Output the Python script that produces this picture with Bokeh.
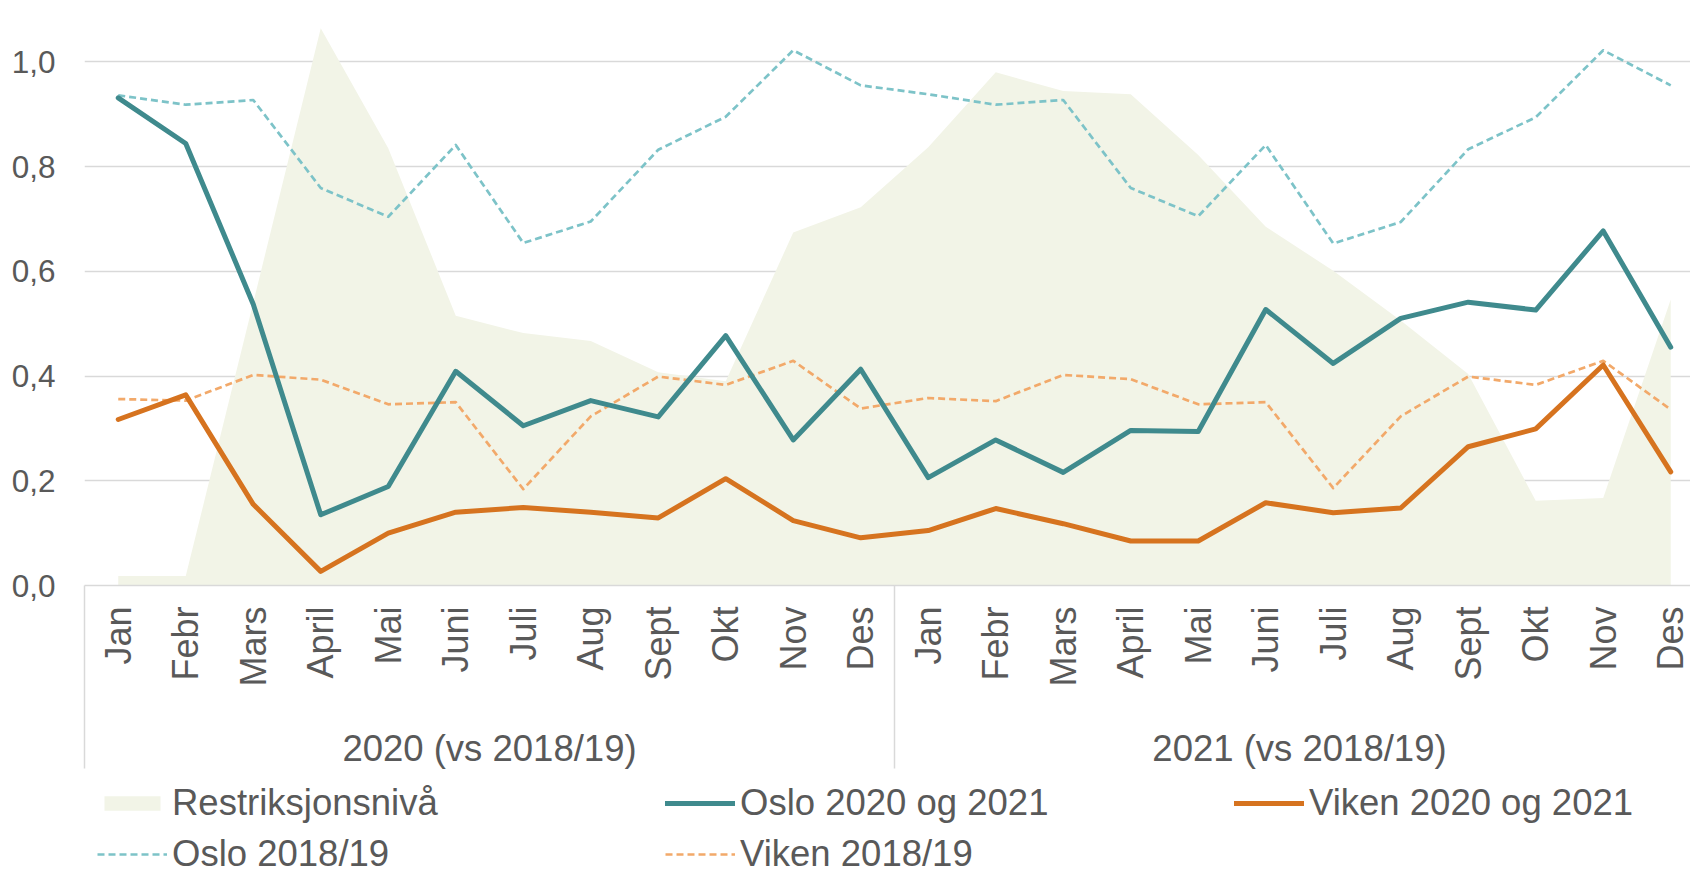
import math
from bokeh.plotting import figure
from bokeh.layouts import column
from bokeh.models import Range1d, FixedTicker, LinearAxis, Legend, LegendItem, Grid
from bokeh.embed import file_html
from bokeh.resources import INLINE

# ---------------- data ----------------
month_names = ["Jan", "Febr", "Mars", "April", "Mai", "Juni", "Juli", "Aug", "Sept", "Okt", "Nov", "Des"]
groups = ["2020 (vs 2018/19)", "2021 (vs 2018/19)"]
categories = month_names + month_names

restriksjon = [0.018, 0.018, 0.54, 1.064, 0.835, 0.515, 0.482, 0.467, 0.407, 0.39, 0.674, 0.722,
               0.837, 0.980, 0.944, 0.938, 0.822, 0.685, 0.601, 0.506, 0.404, 0.162, 0.167, 0.546]
oslo = [0.931, 0.844, 0.537, 0.135, 0.189, 0.409, 0.305, 0.353, 0.322, 0.477, 0.278, 0.413,
        0.206, 0.278, 0.216, 0.296, 0.294, 0.527, 0.424, 0.510, 0.541, 0.526, 0.677, 0.455]
viken = [0.317, 0.364, 0.155, 0.027, 0.100, 0.140, 0.149, 0.140, 0.129, 0.204, 0.124, 0.091,
         0.105, 0.147, 0.118, 0.085, 0.085, 0.158, 0.139, 0.148, 0.265, 0.299, 0.421, 0.217]
oslo_ref = [0.936, 0.918, 0.927, 0.759, 0.704, 0.841, 0.654, 0.695, 0.832, 0.895, 1.022, 0.955,
            0.938, 0.918, 0.927, 0.759, 0.705, 0.841, 0.653, 0.694, 0.833, 0.894, 1.022, 0.955]
viken_ref = [0.356, 0.353, 0.402, 0.393, 0.346, 0.350, 0.184, 0.323, 0.399, 0.383, 0.429, 0.338,
             0.358, 0.352, 0.402, 0.394, 0.346, 0.350, 0.186, 0.323, 0.399, 0.383, 0.429, 0.336]

y_ticks = [0.0, 0.2, 0.4, 0.6, 0.8, 1.0]
y_tick_labels = ["0,0", "0,2", "0,4", "0,6", "0,8", "1,0"]

series_names = ["Restriksjonsnivå", "Oslo 2020 og 2021", "Viken 2020 og 2021", "Oslo 2018/19", "Viken 2018/19"]

# ---------------- style ----------------
FONT = "Liberation Sans"
TXT = "#595959"
GRID = "#D9D9D9"
C_AREA = "#F2F4E7"
C_OSLO = "#3F8A8D"
C_VIKEN = "#D6731F"
C_OSLO_REF = "#7DC3C8"
C_VIKEN_REF = "#F2A96A"

styles = {
    "area": dict(fill_color=C_AREA),
    "oslo": dict(line_color=C_OSLO, line_width=5, line_join="round", line_cap="round"),
    "viken": dict(line_color=C_VIKEN, line_width=5, line_join="round", line_cap="round"),
    "oslo_ref": dict(line_color=C_OSLO_REF, line_width=2.7, line_dash="7 4", line_join="round"),
    "viken_ref": dict(line_color=C_VIKEN_REF, line_width=2.7, line_dash="7 4", line_join="round"),
}

x = list(range(len(categories)))
n_per_group = len(month_names)

W = 1690
H_MAIN = 776
H_LEG = 100
LEFT = 84

p = figure(width=W, height=H_MAIN, output_backend="svg", toolbar_location=None,
           x_range=Range1d(-0.5, 23.293), y_range=Range1d(0, 1.117),
           x_axis_location=None, y_axis_location=None,
           min_border_left=LEFT, min_border_right=0, min_border_top=0, min_border_bottom=191,
           outline_line_color=None, background_fill_color="white", border_fill_color="white")
p.xgrid.visible = False
p.ygrid.visible = False

grid = Grid(dimension=1, ticker=FixedTicker(ticks=y_ticks),
            grid_line_color=GRID, grid_line_width=1.5)
p.add_layout(grid)

# y axis
yaxis = LinearAxis(ticker=FixedTicker(ticks=y_ticks, minor_ticks=[]),
                   major_label_overrides=dict(zip(y_ticks, y_tick_labels)),
                   axis_line_color=None, major_tick_line_color=None, minor_tick_line_color=None,
                   major_tick_out=0, major_tick_in=0, minor_tick_out=0, minor_tick_in=0,
                   major_label_standoff=29, major_label_text_font=FONT,
                   major_label_text_font_size="31.5px", major_label_text_color=TXT)
p.add_layout(yaxis, "left")

# month axis; group separators drawn as long minor ticks
SEP_LEN = 183
separators = [g * n_per_group - 0.5 for g in range(len(groups) + 1)]
xaxis = LinearAxis(ticker=FixedTicker(ticks=x, minor_ticks=separators),
                   major_label_overrides=dict(zip(x, categories)),
                   major_label_orientation=math.pi / 2,
                   axis_line_color=GRID, axis_line_width=1.5,
                   major_tick_out=0, major_tick_in=0, major_tick_line_color=None,
                   minor_tick_in=0, minor_tick_out=SEP_LEN, minor_tick_line_color=GRID,
                   minor_tick_line_width=1.5,
                   major_label_standoff=21 - SEP_LEN, major_label_text_font=FONT,
                   major_label_text_font_size="36px", major_label_text_color=TXT)
p.add_layout(xaxis, "below")

group_centers = [g * n_per_group + (n_per_group - 1) / 2 for g in range(len(groups))]
gaxis = LinearAxis(ticker=FixedTicker(ticks=group_centers, minor_ticks=[]),
                   major_label_overrides=dict(zip(group_centers, groups)),
                   axis_line_color=None, major_tick_line_color=None, minor_tick_line_color=None,
                   major_tick_out=0, major_tick_in=0, minor_tick_out=0, minor_tick_in=0,
                   major_label_standoff=38, major_label_text_font=FONT,
                   major_label_text_font_size="36.5px", major_label_text_color=TXT)
p.add_layout(gaxis, "below")

# glyphs
r_area = p.varea(x=x, y1=0, y2=restriksjon, **styles["area"])
r_oref = p.line(x, oslo_ref, **styles["oslo_ref"])
r_vref = p.line(x, viken_ref, **styles["viken_ref"])
r_oslo = p.line(x, oslo, **styles["oslo"])
r_viken = p.line(x, viken, **styles["viken"])

# ---------------- legend strip ----------------
q = figure(width=W, height=H_LEG, output_backend="svg", toolbar_location=None,
           x_range=Range1d(0, 1), y_range=Range1d(0, 1),
           x_axis_location=None, y_axis_location=None,
           min_border_left=LEFT, min_border_right=0, min_border_top=0, min_border_bottom=0,
           outline_line_color=None, background_fill_color="white", border_fill_color="white")
q.xgrid.visible = False
q.ygrid.visible = False
keys = ["area", "oslo", "viken", "oslo_ref", "viken_ref"]
# legend key proxies (kept outside the strip's visible range)
leg_r = {}
for k in keys:
    if k == "area":
        leg_r[k] = q.varea(x=[5, 6], y1=[5, 5], y2=[6, 6], **styles[k])
    else:
        leg_r[k] = q.line(x=[5, 6], y=[5, 5], **styles[k])
names = dict(zip(keys, series_names))

LH = 44
ROW1 = 803 - H_MAIN     # centre of first legend row inside the strip
STEP = 51               # distance between legend rows
legend_style = dict(label_text_font=FONT, label_text_font_size="36.5px", label_text_color=TXT,
                    glyph_width=70, glyph_height=18, label_standoff=5, label_height=LH,
                    spacing=STEP - LH, padding=0, margin=0, border_line_color=None,
                    background_fill_alpha=0, orientation="vertical")

cols = [
    (["area", "oslo_ref"], 97),
    (["oslo", "viken_ref"], 665),
    (["viken"], 1234),
]
for ks, gx in cols:
    n = len(ks)
    leg_h = n * LH + (n - 1) * (STEP - LH)
    top = ROW1 - LH / 2
    vy = H_LEG - top - leg_h
    lg = Legend(items=[LegendItem(label=names[k], renderers=[leg_r[k]]) for k in ks],
                location=(gx - LEFT, vy), **legend_style)
    q.add_layout(lg)

layout = column(p, q, spacing=0)
open("out.html", "w").write(file_html(layout, INLINE))
